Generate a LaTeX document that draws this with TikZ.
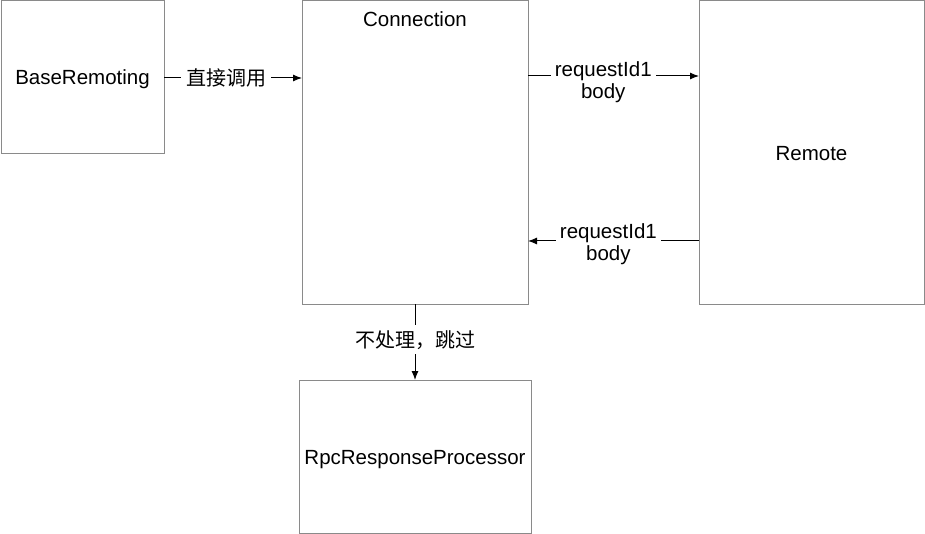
\documentclass[tikz,border=0pt]{standalone}
\usepackage{fontspec}
\setmainfont{Liberation Sans}
\newfontfamily\cjk{Noto Sans CJK SC}
\usetikzlibrary{arrows.meta}
\definecolor{boxgray}{HTML}{8A8A8A}
\tikzset{
  box/.style={draw=boxgray, line width=1pt, inner sep=0pt},
  lbl/.style={font=\fontsize{20.5}{22}\selectfont, align=center, inner sep=1pt},
  conn/.style={draw=black, line width=1pt, -{Latex[length=9pt,width=7pt]}},
  clabel/.style={fill=white, font=\fontsize{20.5}{22}\selectfont, align=center, inner sep=4pt},
  cjklabel/.style={fill=white, font=\cjk\fontsize{20}{22}\selectfont, align=center, inner sep=5pt},
}
\begin{document}
\begin{tikzpicture}[x=1pt,y=-1pt]
\useasboundingbox[fill=white] (0,0) rectangle (925,534);
% boxes
\node[box, minimum width=163pt, minimum height=153pt] (base) at (82.5,77.5) {};
\node[box, minimum width=226pt, minimum height=303pt] (conn) at (415,152.5) {};
\node[box, minimum width=225pt, minimum height=303pt] (remote) at (811.5,152.5) {};
\node[box, minimum width=232pt, minimum height=153pt] (rpc) at (415,456.5) {};
% labels
\node[lbl] (tbase) at (82.5,79) {BaseRemoting};
\node[lbl] (tconn) at (415,19) {Connection};
\node[lbl] (tremote) at (811.5,154) {Remote};
\node[lbl] (trpc) at (415,460) {RpcResponseProcessor};
% connector end points
\coordinate (a1) at (164,78);
\coordinate (a2) at (302,78);
\coordinate (b1) at (528,76);
\coordinate (b2) at (699,76);
\coordinate (c1) at (699,241);
\coordinate (c2) at (528,241);
\coordinate (d1) at (415,304);
\coordinate (d2) at (415,380);
% connectors
\draw[conn] (a1) -- node[cjklabel, pos=0.45] (la) {直接调用} (a2);
\draw[conn] (b1) -- node[clabel, pos=0.44, yshift=-6pt] (lb) {requestId1\\body} (b2);
\draw[conn] (c1) -- node[clabel, pos=0.53, yshift=-3pt] (lc) {requestId1\\body} (c2);
\draw[conn] (d1) -- node[cjklabel, pos=0.47] (ld) {不处理，跳过} (d2);
\end{tikzpicture}
\end{document}
